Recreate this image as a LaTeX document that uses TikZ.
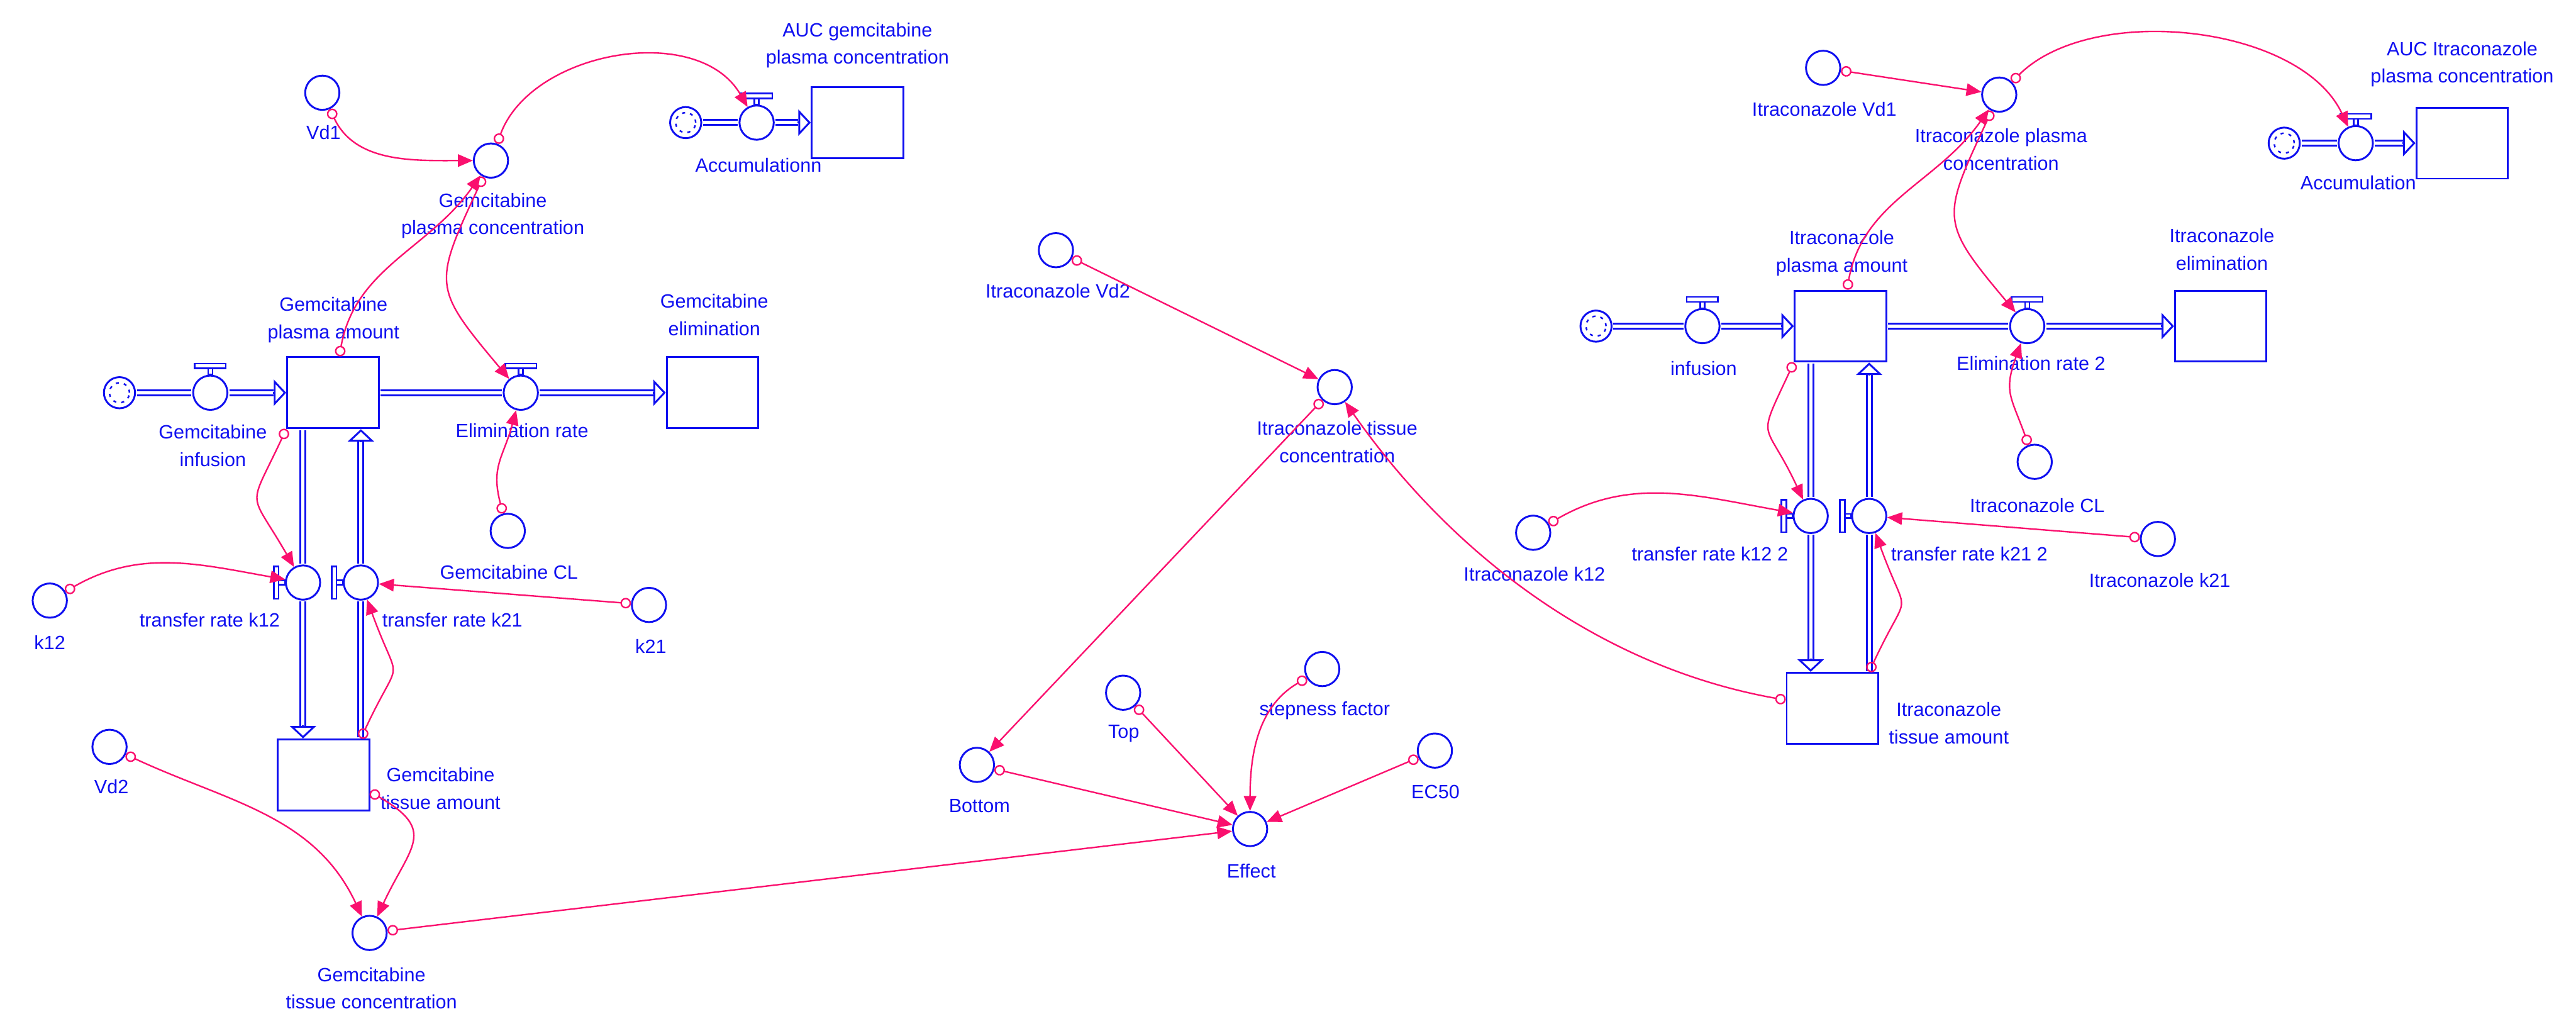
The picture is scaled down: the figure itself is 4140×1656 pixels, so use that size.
\documentclass[tikz,border=0pt]{standalone}
\usepackage{fontspec}
\setmainfont{Liberation Sans}
\usetikzlibrary{arrows.meta}
\definecolor{simblue}{RGB}{16,16,240}
\definecolor{linkpink}{RGB}{250,16,110}

\begin{document}
\begin{tikzpicture}[
    x=0.01cm, y=-0.01cm,
    font=\fontsize{8.8}{12.5}\selectfont,
    aux/.style={circle, draw=simblue, line width=0.03cm, minimum size=0.55cm,
                inner sep=0pt},
    valve/.style={aux},
    stock/.style={draw=simblue, line width=0.03cm, minimum width=1.47cm,
                  minimum height=1.14cm, inner sep=0pt},
    cloud/.style={aux, minimum size=0.5cm,
                  path picture={\draw[simblue, line width=0.025cm,
                    dash pattern=on 0.05cm off 0.08cm]
                    (path picture bounding box.center) circle (0.16cm);}},
    lbl/.style={text=simblue, align=center, inner sep=0pt},
    pipe/.style={draw=simblue, double=white, double distance=0.05cm,
                 line width=0.03cm, shorten <=0.015cm, shorten >=0.015cm},
    pipetip/.style={draw=simblue, line width=0.03cm,
                    -{Triangle[open, length=0.2cm, width=0.42cm]}},
    handle/.style={draw=simblue, line width=0.025cm},
    link/.style={draw=linkpink, line width=0.024cm,
                 {Circle[open, length=0.17cm]}-{Triangle[length=0.24cm, width=0.2cm]}},
  ]
  \useasboundingbox (0,0) rectangle (4140,1656);

  % --- Gemcitabine model --------------------------------------------------
  \node[aux] (vdone) at (518,149) {};
  \node[lbl] (vdonelbl) at (520,213) {Vd1};
  \node[aux] (gpc) at (789,258) {};
  \node[lbl] (gpclbl) at (792,347) {Gemcitabine\\plasma concentration};

  \node[cloud] (gaccsrc) at (1102,197) {};
  \node[valve] (gaccv) at (1216,197) {};
  \node[lbl] (gacclbl) at (1219,265) {Accumulationn};
  \node[stock] (gauc) at (1378,197) {};
  \node[lbl] (gauclbl) at (1378,73) {AUC gemcitabine\\plasma concentration};

  \node[stock] (gpa) at (535,631) {};
  \node[lbl] (gpalbl) at (536,514) {Gemcitabine\\plasma amount};
  \node[cloud] (gsrc) at (192,631) {};
  \node[valve] (ginf) at (338,631) {};
  \node[lbl] (ginflbl) at (342,716) {Gemcitabine\\infusion};
  \node[valve] (gelr) at (837,631) {};
  \node[lbl] (gelrlbl) at (839,692) {Elimination rate};
  \node[stock] (gelim) at (1145,631) {};
  \node[lbl] (gelimlbl) at (1148,506) {Gemcitabine\\elimination};

  \node[valve] (gk12v) at (487,936) {};
  \node[valve] (gk21v) at (580,936) {};
  \node[lbl] (gk12vlbl) at (337,996) {transfer rate k12};
  \node[lbl] (gk21vlbl) at (727,996) {transfer rate k21};
  \node[stock] (gta) at (520,1245) {};
  \node[lbl] (gtalbl) at (708,1267) {Gemcitabine\\tissue amount};

  \node[aux] (gk12) at (80,965) {};
  \node[lbl] (gk12lbl) at (80,1032) {k12};
  \node[aux] (gk21) at (1043,972) {};
  \node[lbl] (gk21lbl) at (1046,1038) {k21};
  \node[aux] (gcl) at (816,853) {};
  \node[lbl] (gcllbl) at (818,919) {Gemcitabine CL};
  \node[aux] (vdtwo) at (176,1200) {};
  \node[lbl] (vdtwolbl) at (179,1264) {Vd2};
  \node[aux] (gtc) at (594,1499) {};
  \node[lbl] (gtclbl) at (597,1588) {Gemcitabine\\tissue concentration};

  % --- Effect -------------------------------------------------------------
  \node[aux] (ivdtwo) at (1697,402) {};
  \node[lbl] (ivdtwolbl) at (1700,468) {Itraconazole Vd2};
  \node[aux] (itc) at (2145,622) {};
  \node[lbl] (itclbl) at (2149,710) {Itraconazole tissue\\concentration};
  \node[aux] (bottom) at (1570,1229) {};
  \node[lbl] (bottomlbl) at (1574,1295) {Bottom};
  \node[aux] (top) at (1805,1113) {};
  \node[lbl] (toplbl) at (1806,1179) {Top};
  \node[aux] (steep) at (2125,1075) {};
  \node[lbl] (steeplbl) at (2129,1142) {stepness factor};
  \node[aux] (ecfifty) at (2306,1206) {};
  \node[lbl] (ecfiftylbl) at (2307,1272) {EC50};
  \node[aux] (effect) at (2009,1332) {};
  \node[lbl] (effectlbl) at (2011,1399) {Effect};

  % --- Itraconazole model -------------------------------------------------
  \node[aux] (ivdone) at (2930,109) {};
  \node[lbl] (ivdonelbl) at (2932,175) {Itraconazole Vd1};
  \node[aux] (ipc) at (3213,152) {};
  \node[lbl] (ipclbl) at (3216,240) {Itraconazole plasma\\concentration};

  \node[cloud] (iaccsrc) at (3671,230) {};
  \node[valve] (iaccv) at (3786,230) {};
  \node[lbl] (iacclbl) at (3790,294) {Accumulation};
  \node[stock] (iauc) at (3957,230) {};
  \node[lbl] (iauclbl) at (3957,103) {AUC Itraconazole\\plasma concentration};

  \node[stock] (ipa) at (2958,524) {};
  \node[lbl] (ipalbl) at (2960,407) {Itraconazole\\plasma amount};
  \node[cloud] (isrc) at (2565,524) {};
  \node[valve] (iinf) at (2736,524) {};
  \node[lbl] (iinflbl) at (2738,592) {infusion};
  \node[valve] (ielr) at (3258,524) {};
  \node[lbl] (ielrlbl) at (3264,584) {Elimination rate 2};
  \node[stock] (ielim) at (3569,524) {};
  \node[lbl] (ielimlbl) at (3571,401) {Itraconazole\\elimination};

  \node[valve] (ik12v) at (2910,829) {};
  \node[valve] (ik21v) at (3004,829) {};
  \node[lbl] (ik12vlbl) at (2748,890) {transfer rate k12 2};
  \node[lbl] (ik21vlbl) at (3165,890) {transfer rate k21 2};
  \node[stock] (ita) at (2945,1138) {};
  \node[lbl] (italbl) at (3132,1162) {Itraconazole\\tissue amount};

  \node[aux] (ik12) at (2464,856) {};
  \node[lbl] (ik12lbl) at (2466,922) {Itraconazole k12};
  \node[aux] (ik21) at (3468,866) {};
  \node[lbl] (ik21lbl) at (3471,932) {Itraconazole k21};
  \node[aux] (icl) at (3270,742) {};
  \node[lbl] (icllbl) at (3274,812) {Itraconazole CL};

  % --- valve handles ------------------------------------------------------
  \foreach \v in {ginf,gelr,gaccv,iinf,ielr,iaccv} {
    \draw[handle] ([xshift=-0.035cm]\v.north) rectangle ([xshift=0.035cm,yshift=0.1cm]\v.north);
    \draw[handle] ([xshift=-0.25cm,yshift=0.1cm]\v.north) rectangle ([xshift=0.25cm,yshift=0.18cm]\v.north);
  }
  \foreach \v in {gk12v,gk21v,ik12v,ik21v} {
    \draw[handle] ([yshift=-0.035cm]\v.west) rectangle ([xshift=-0.1cm,yshift=0.035cm]\v.west);
    \draw[handle] ([xshift=-0.1cm,yshift=-0.26cm]\v.west) rectangle ([xshift=-0.18cm,yshift=0.26cm]\v.west);
  }

  % --- flows --------------------------------------------------------------
  \draw[pipe] (gsrc) -- (ginf);
  \draw[pipe, shorten >=0.2cm] (ginf) -- (gpa.west);
  \draw[pipetip] ([xshift=-0.21cm]gpa.west) -- (gpa.west);
  \draw[pipe] (gpa) -- (gelr);
  \draw[pipe, shorten >=0.2cm] (gelr) -- (gelim.west);
  \draw[pipetip] ([xshift=-0.21cm]gelim.west) -- (gelim.west);
  \draw[pipe] (gaccsrc) -- (gaccv);
  \draw[pipe, shorten >=0.2cm] (gaccv) -- (gauc.west);
  \draw[pipetip] ([xshift=-0.21cm]gauc.west) -- (gauc.west);

  \coordinate (gk12top) at (gk12v |- gpa.south);
  \coordinate (gk12bot) at (gk12v |- gta.north);
  \coordinate (gk21top) at (gk21v |- gpa.south);
  \coordinate (gk21bot) at (gk21v |- gta.north);
  \draw[pipe] (gk12top) -- (gk12v);
  \draw[pipe, shorten >=0.2cm] (gk12v) -- (gk12bot);
  \draw[pipetip] ([yshift=0.21cm]gk12bot) -- (gk12bot);
  \draw[pipe] (gk21bot) -- (gk21v);
  \draw[pipe, shorten >=0.2cm] (gk21v) -- (gk21top);
  \draw[pipetip] ([yshift=-0.21cm]gk21top) -- (gk21top);

  \draw[pipe] (isrc) -- (iinf);
  \draw[pipe, shorten >=0.2cm] (iinf) -- (ipa.west);
  \draw[pipetip] ([xshift=-0.21cm]ipa.west) -- (ipa.west);
  \draw[pipe] (ipa) -- (ielr);
  \draw[pipe, shorten >=0.2cm] (ielr) -- (ielim.west);
  \draw[pipetip] ([xshift=-0.21cm]ielim.west) -- (ielim.west);
  \draw[pipe] (iaccsrc) -- (iaccv);
  \draw[pipe, shorten >=0.2cm] (iaccv) -- (iauc.west);
  \draw[pipetip] ([xshift=-0.21cm]iauc.west) -- (iauc.west);

  \coordinate (ik12top) at (ik12v |- ipa.south);
  \coordinate (ik12bot) at (ik12v |- ita.north);
  \coordinate (ik21top) at (ik21v |- ipa.south);
  \coordinate (ik21bot) at (ik21v |- ita.north);
  \draw[pipe] (ik12top) -- (ik12v);
  \draw[pipe, shorten >=0.2cm] (ik12v) -- (ik12bot);
  \draw[pipetip] ([yshift=0.21cm]ik12bot) -- (ik12bot);
  \draw[pipe] (ik21bot) -- (ik21v);
  \draw[pipe, shorten >=0.2cm] (ik21v) -- (ik21top);
  \draw[pipetip] ([yshift=-0.21cm]ik21top) -- (ik21top);

  % --- connectors ---------------------------------------------------------
  \draw[link] (vdone) to[out=-65, in=180] (gpc);
  \draw[link] (gpc) to[out=70, in=120] (gaccv);
  \draw[link] (gpa.80) to[out=80, in=-125] (gpc);
  \draw[link] (gpc) to[out=-115, in=130, looseness=1.5] (gelr);
  \draw[link] (gpa.south west) to[out=-115, in=120, looseness=1.7] (gk12v);
  \draw[link] (gcl) to[out=105, in=-105, looseness=1.2] (gelr);
  \draw[link] (gk12) to[out=30, in=170] (gk12v);
  \draw[link] (gk21) -- (gk21v);
  \draw[link] (gk21bot) to[out=65, in=-70, looseness=1.8] (gk21v);
  \draw[link] (vdtwo) to[out=-25, in=115] (gtc);
  \draw[link] (gta.-20) to[out=-30, in=65, looseness=1.6] (gtc);
  \draw[link] (gtc) -- (effect);

  \draw[link] (ivdtwo) -- (itc);
  \draw[link] (itc) -- (bottom);
  \draw[link] (ita) to[out=170, in=-55, looseness=0.9] (itc);
  \draw[link] (bottom) -- (effect);
  \draw[link] (top) -- (effect);
  \draw[link] (steep) to[out=-150, in=90] (effect);
  \draw[link] (ecfifty) -- (effect);

  \draw[link] (ivdone) -- (ipc);
  \draw[link] (ipc) to[out=45, in=115, looseness=0.85] (iaccv);
  \draw[link] (ipa.80) to[out=80, in=-125] (ipc);
  \draw[link] (ipc) to[out=-115, in=130, looseness=1.5] (ielr);
  \draw[link] (ipa.south west) to[out=-115, in=115, looseness=1.7] (ik12v);
  \draw[link] (icl) to[out=110, in=-110, looseness=1.3] (ielr);
  \draw[link] (ik12) to[out=30, in=170] (ik12v);
  \draw[link] (ik21) -- (ik21v);
  \draw[link] (ik21bot) to[out=65, in=-70, looseness=1.8] (ik21v);

\end{tikzpicture}
\end{document}
